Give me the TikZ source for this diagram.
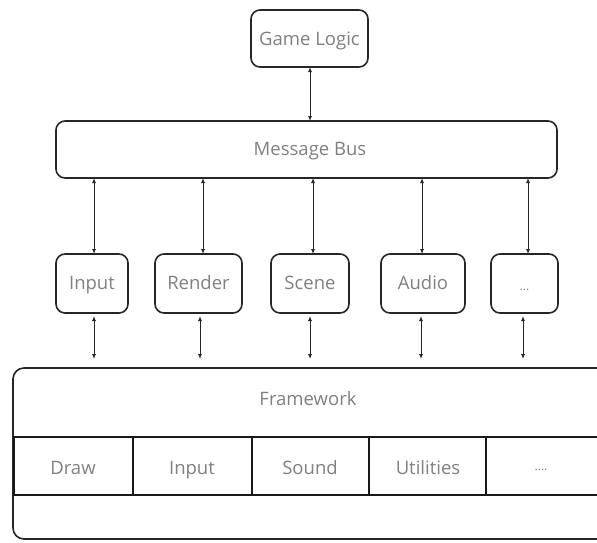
\documentclass[tikz,border=0pt]{standalone}
\usepackage{fontspec}
\setmainfont{Open Sans}
\usetikzlibrary{arrows.meta}
\newcommand\mydots{...}
\begin{document}
\begin{tikzpicture}[x=1pt,y=-1pt,
  box/.style={draw=black!85,line width=1.6pt,rounded corners=9pt},
  cell/.style={draw=black!90,line width=1.4pt},
  lbl/.style={text=black!50,anchor=base,font=\fontsize{18.5}{22}\selectfont},
  small/.style={font=\fontsize{12}{14}\selectfont},
  link/.style={draw=black!85,line width=0.9pt,{Latex[length=5pt,width=4pt]}-{Latex[length=5pt,width=4pt]}}]
\useasboundingbox (0,0) rectangle (597,542);
\clip (0,0) rectangle (597,542);
% boxes
\draw[box] (251,10) rectangle (368,67);
\node[lbl] (gl) at (309.5,45) {Game Logic};
\coordinate (glb) at (310,67);
\draw[box] (56,121) rectangle (557,178);
\node[lbl] (mb) at (310,155) {Message Bus};
% modules
\foreach \n/\l/\r/\t/\ax/\bx in {in/56/128/Input/94/94, re/155/242/Render/203/200, sc/271/349/Scene/313/310, au/381/465/Audio/422/421}{
  \draw[box] (\l,254) rectangle (\r,313);
  \node[lbl] (\n) at ({(\l+\r)/2},289) {\t};
  \coordinate (\n top) at (\ax,254);
  \coordinate (\n mb) at (\ax,178);
  \coordinate (\n bot) at (\bx,316);
  \coordinate (\n fw) at (\bx,359);
  \draw[link] (\n mb) -- (\n top);
  \draw[link] (\n bot) -- (\n fw);
}
\draw[box] (491,254) rectangle (558,313);
\node[lbl,small] (dd) at (524.5,290) {\mydots};
\coordinate (dd top) at (528,254);
\coordinate (dd mb) at (528,178);
\coordinate (dd bot) at (523,316);
\coordinate (dd fw) at (523,359);
\draw[link] (dd mb) -- (dd top);
\draw[link] (dd bot) -- (dd fw);
\coordinate (mbt) at (310,121);
\draw[link] (glb) -- (mbt);
% framework
\draw[box,rounded corners=11pt] (13,368) rectangle (620,539);
\node[lbl] (fw) at (308,405) {Framework};
\draw[cell] (14,437) rectangle (133,495);
\draw[cell] (133,437) rectangle (252,495);
\draw[cell] (252,437) rectangle (369,495);
\draw[cell] (369,437) rectangle (486,495);
\draw[cell] (486,437) rectangle (620,495);
\node[lbl] (c1) at (73,474) {Draw};
\node[lbl] (c2) at (192,474) {Input};
\node[lbl] (c3) at (310,474) {Sound};
\node[lbl] (c4) at (428,474) {Utilities};
\node[lbl,small] (c5) at (541,470) {\mydots.};
\end{tikzpicture}
\end{document}
